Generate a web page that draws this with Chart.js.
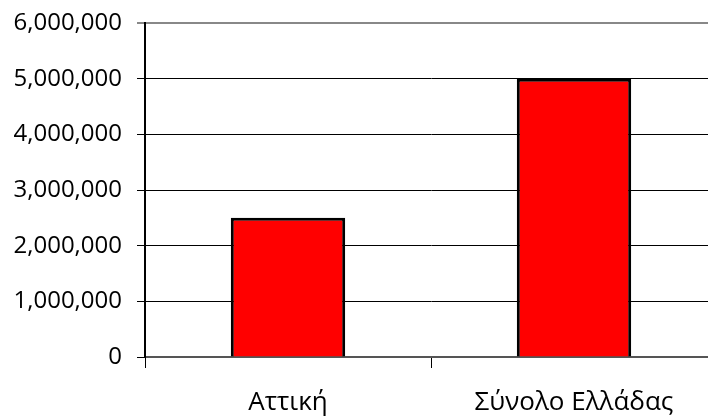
<!DOCTYPE html>
<html lang="el">
<head>
  <meta charset="UTF-8">
  <title>Αττική - Σύνολο Ελλάδας</title>
  <script src="https://cdn.jsdelivr.net/npm/chart.js"></script>
  <style>
    html, body { margin: 0; padding: 0; background: #fff; overflow: hidden; }
    .chart-box { width: 730px; height: 418px; }
  </style>
</head>
<body>
  <div class="chart-box"><canvas id="popChart"></canvas></div>

  <script>
    // data
    const categories = ['Αττική', 'Σύνολο Ελλάδας'];
    const values = [2500000, 5000000];
    const yMax = 6000000;
    const yStep = 1000000;

    const fontFamily = '"Open Sans", sans-serif';

    new Chart(document.getElementById('popChart'), {
      type: 'bar',
      data: {
        labels: categories,
        datasets: [{
          data: values,
          backgroundColor: '#ff0000',
          borderColor: '#000000',
          borderWidth: 3,
          barPercentage: 0.4,
          categoryPercentage: 1
        }]
      },
      options: {
        responsive: true,
        maintainAspectRatio: false,
        animation: false,
        layout: { padding: { top: 23, right: 13, left: 0, bottom: 0 } },
        plugins: {
          legend: { display: false },
          tooltip: { enabled: false }
        },
        scales: {
          x: {
            offset: true,
            afterFit: scale => { scale.height = 61; },
            border: { display: true, color: '#555', width: 2 },
            grid: {
              offset: true,
              drawOnChartArea: false,
              drawTicks: true,
              tickLength: 11,
              color: '#000',
              lineWidth: 1
            },
            ticks: {
              color: '#000',
              padding: 19,
              font: { family: fontFamily, size: 26 }
            }
          },
          y: {
            min: 0,
            max: yMax,
            afterFit: scale => {
              scale.width = 145;
              // keep the top label from pushing the plot down
              scale.paddingTop = 0;
              scale.paddingBottom = 0;
            },
            border: { display: true, color: '#000', width: 2 },
            grid: {
              color: ctx => (ctx.tick && ctx.tick.value === yMax ? '#888' : '#000'),
              lineWidth: ctx => (ctx.tick && ctx.tick.value === yMax ? 2 : 1),
              tickLength: 8
            },
            ticks: {
              stepSize: yStep,
              color: '#000',
              padding: 15,
              font: { family: fontFamily, size: 24 },
              callback: v => v.toLocaleString('en-US')
            }
          }
        }
      }
    });
  </script>
</body>
</html>
